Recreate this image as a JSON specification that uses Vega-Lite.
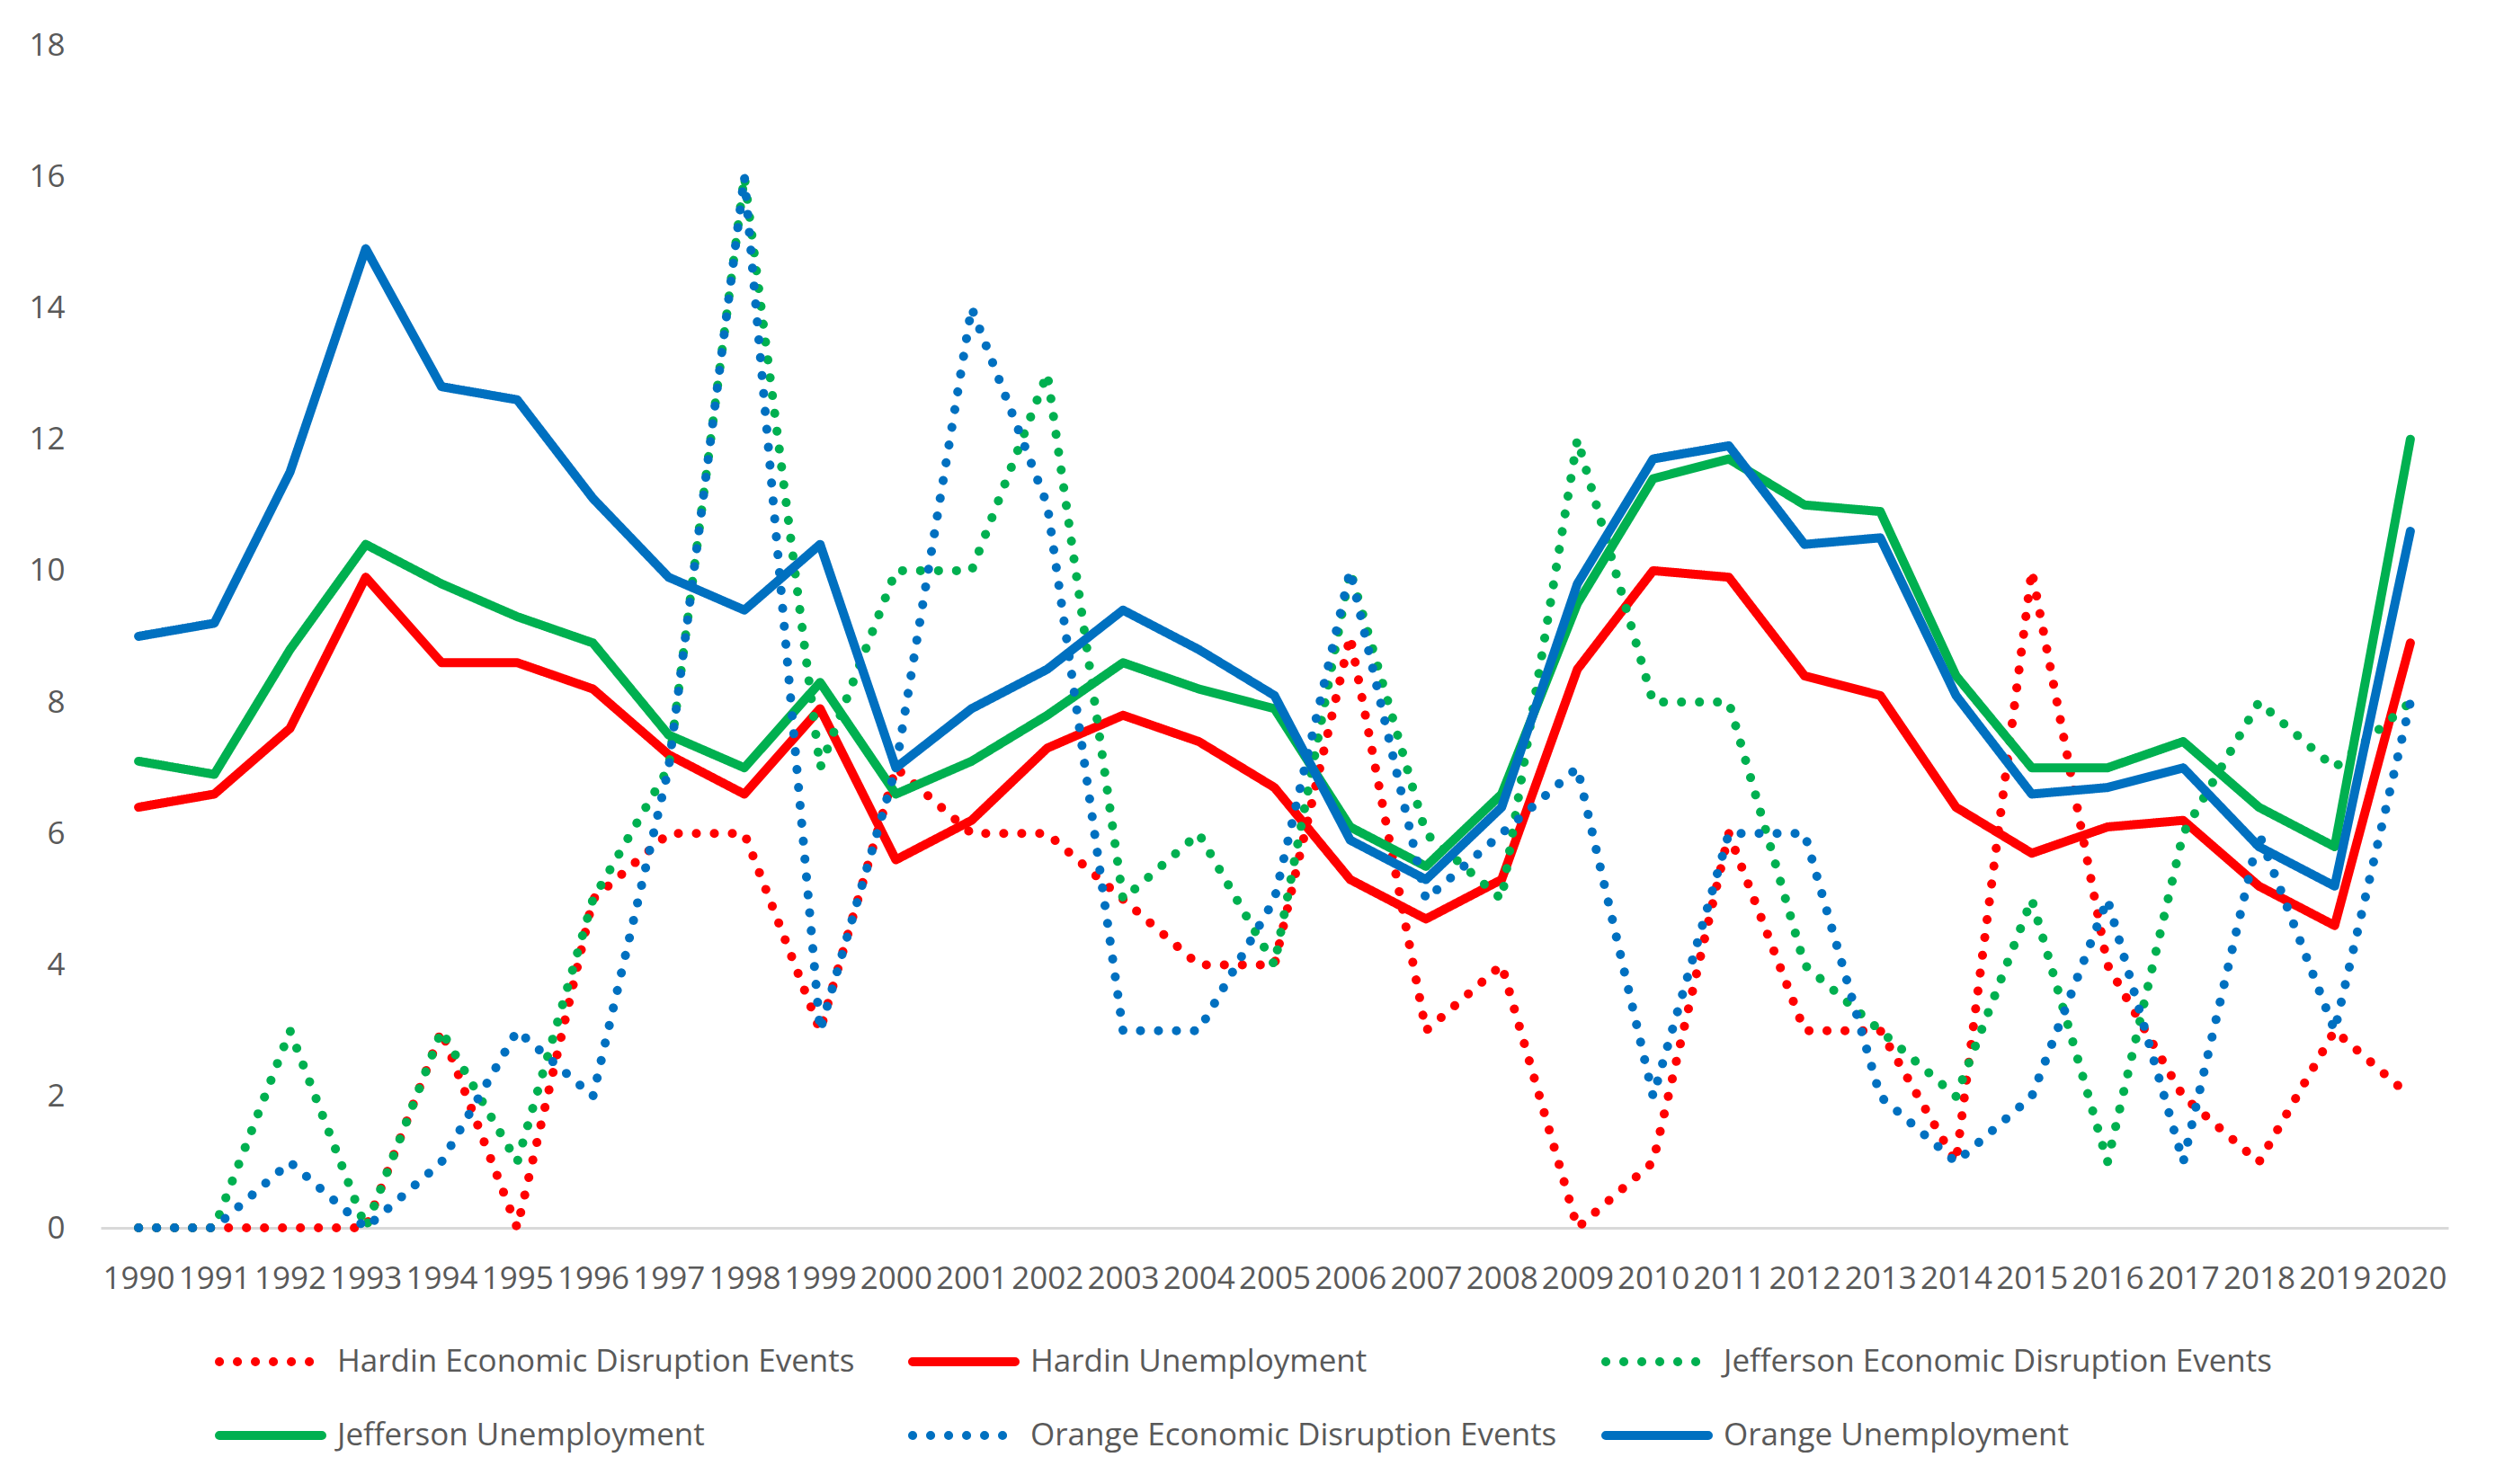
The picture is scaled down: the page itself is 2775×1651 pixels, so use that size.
{
  "$schema": "https://vega.github.io/schema/vega-lite/v6.json",
  "width": 2611,
  "height": 1316,
  "autosize": {"type": "none"},
  "padding": {"left": 112, "top": 50, "right": 52, "bottom": 285},
  "background": "white",
  "config": {"font": "Open Sans", "view": {"stroke": null}},
  "data": {
    "values": [
      {"year": "1990", "series": "Hardin Economic Disruption Events", "value": 0},
      {"year": "1991", "series": "Hardin Economic Disruption Events", "value": 0},
      {"year": "1992", "series": "Hardin Economic Disruption Events", "value": 0},
      {"year": "1993", "series": "Hardin Economic Disruption Events", "value": 0},
      {"year": "1994", "series": "Hardin Economic Disruption Events", "value": 3},
      {"year": "1995", "series": "Hardin Economic Disruption Events", "value": 0},
      {"year": "1996", "series": "Hardin Economic Disruption Events", "value": 5},
      {"year": "1997", "series": "Hardin Economic Disruption Events", "value": 6},
      {"year": "1998", "series": "Hardin Economic Disruption Events", "value": 6},
      {"year": "1999", "series": "Hardin Economic Disruption Events", "value": 3},
      {"year": "2000", "series": "Hardin Economic Disruption Events", "value": 7},
      {"year": "2001", "series": "Hardin Economic Disruption Events", "value": 6},
      {"year": "2002", "series": "Hardin Economic Disruption Events", "value": 6},
      {"year": "2003", "series": "Hardin Economic Disruption Events", "value": 5},
      {"year": "2004", "series": "Hardin Economic Disruption Events", "value": 4},
      {"year": "2005", "series": "Hardin Economic Disruption Events", "value": 4},
      {"year": "2006", "series": "Hardin Economic Disruption Events", "value": 9},
      {"year": "2007", "series": "Hardin Economic Disruption Events", "value": 3},
      {"year": "2008", "series": "Hardin Economic Disruption Events", "value": 4},
      {"year": "2009", "series": "Hardin Economic Disruption Events", "value": 0},
      {"year": "2010", "series": "Hardin Economic Disruption Events", "value": 1},
      {"year": "2011", "series": "Hardin Economic Disruption Events", "value": 6},
      {"year": "2012", "series": "Hardin Economic Disruption Events", "value": 3},
      {"year": "2013", "series": "Hardin Economic Disruption Events", "value": 3},
      {"year": "2014", "series": "Hardin Economic Disruption Events", "value": 1},
      {"year": "2015", "series": "Hardin Economic Disruption Events", "value": 10},
      {"year": "2016", "series": "Hardin Economic Disruption Events", "value": 4},
      {"year": "2017", "series": "Hardin Economic Disruption Events", "value": 2},
      {"year": "2018", "series": "Hardin Economic Disruption Events", "value": 1},
      {"year": "2019", "series": "Hardin Economic Disruption Events", "value": 3},
      {"year": "2020", "series": "Hardin Economic Disruption Events", "value": 2},
      {"year": "1990", "series": "Hardin Unemployment", "value": 6.4},
      {"year": "1991", "series": "Hardin Unemployment", "value": 6.6},
      {"year": "1992", "series": "Hardin Unemployment", "value": 7.6},
      {"year": "1993", "series": "Hardin Unemployment", "value": 9.9},
      {"year": "1994", "series": "Hardin Unemployment", "value": 8.6},
      {"year": "1995", "series": "Hardin Unemployment", "value": 8.6},
      {"year": "1996", "series": "Hardin Unemployment", "value": 8.2},
      {"year": "1997", "series": "Hardin Unemployment", "value": 7.2},
      {"year": "1998", "series": "Hardin Unemployment", "value": 6.6},
      {"year": "1999", "series": "Hardin Unemployment", "value": 7.9},
      {"year": "2000", "series": "Hardin Unemployment", "value": 5.6},
      {"year": "2001", "series": "Hardin Unemployment", "value": 6.2},
      {"year": "2002", "series": "Hardin Unemployment", "value": 7.3},
      {"year": "2003", "series": "Hardin Unemployment", "value": 7.8},
      {"year": "2004", "series": "Hardin Unemployment", "value": 7.4},
      {"year": "2005", "series": "Hardin Unemployment", "value": 6.7},
      {"year": "2006", "series": "Hardin Unemployment", "value": 5.3},
      {"year": "2007", "series": "Hardin Unemployment", "value": 4.7},
      {"year": "2008", "series": "Hardin Unemployment", "value": 5.3},
      {"year": "2009", "series": "Hardin Unemployment", "value": 8.5},
      {"year": "2010", "series": "Hardin Unemployment", "value": 10.0},
      {"year": "2011", "series": "Hardin Unemployment", "value": 9.9},
      {"year": "2012", "series": "Hardin Unemployment", "value": 8.4},
      {"year": "2013", "series": "Hardin Unemployment", "value": 8.1},
      {"year": "2014", "series": "Hardin Unemployment", "value": 6.4},
      {"year": "2015", "series": "Hardin Unemployment", "value": 5.7},
      {"year": "2016", "series": "Hardin Unemployment", "value": 6.1},
      {"year": "2017", "series": "Hardin Unemployment", "value": 6.2},
      {"year": "2018", "series": "Hardin Unemployment", "value": 5.2},
      {"year": "2019", "series": "Hardin Unemployment", "value": 4.6},
      {"year": "2020", "series": "Hardin Unemployment", "value": 8.9},
      {"year": "1990", "series": "Jefferson Economic Disruption Events", "value": 0},
      {"year": "1991", "series": "Jefferson Economic Disruption Events", "value": 0},
      {"year": "1992", "series": "Jefferson Economic Disruption Events", "value": 3},
      {"year": "1993", "series": "Jefferson Economic Disruption Events", "value": 0},
      {"year": "1994", "series": "Jefferson Economic Disruption Events", "value": 3},
      {"year": "1995", "series": "Jefferson Economic Disruption Events", "value": 1},
      {"year": "1996", "series": "Jefferson Economic Disruption Events", "value": 5},
      {"year": "1997", "series": "Jefferson Economic Disruption Events", "value": 7},
      {"year": "1998", "series": "Jefferson Economic Disruption Events", "value": 16},
      {"year": "1999", "series": "Jefferson Economic Disruption Events", "value": 7},
      {"year": "2000", "series": "Jefferson Economic Disruption Events", "value": 10},
      {"year": "2001", "series": "Jefferson Economic Disruption Events", "value": 10},
      {"year": "2002", "series": "Jefferson Economic Disruption Events", "value": 13},
      {"year": "2003", "series": "Jefferson Economic Disruption Events", "value": 5},
      {"year": "2004", "series": "Jefferson Economic Disruption Events", "value": 6},
      {"year": "2005", "series": "Jefferson Economic Disruption Events", "value": 4},
      {"year": "2006", "series": "Jefferson Economic Disruption Events", "value": 10},
      {"year": "2007", "series": "Jefferson Economic Disruption Events", "value": 6},
      {"year": "2008", "series": "Jefferson Economic Disruption Events", "value": 5},
      {"year": "2009", "series": "Jefferson Economic Disruption Events", "value": 12},
      {"year": "2010", "series": "Jefferson Economic Disruption Events", "value": 8},
      {"year": "2011", "series": "Jefferson Economic Disruption Events", "value": 8},
      {"year": "2012", "series": "Jefferson Economic Disruption Events", "value": 4},
      {"year": "2013", "series": "Jefferson Economic Disruption Events", "value": 3},
      {"year": "2014", "series": "Jefferson Economic Disruption Events", "value": 2},
      {"year": "2015", "series": "Jefferson Economic Disruption Events", "value": 5},
      {"year": "2016", "series": "Jefferson Economic Disruption Events", "value": 1},
      {"year": "2017", "series": "Jefferson Economic Disruption Events", "value": 6},
      {"year": "2018", "series": "Jefferson Economic Disruption Events", "value": 8},
      {"year": "2019", "series": "Jefferson Economic Disruption Events", "value": 7},
      {"year": "2020", "series": "Jefferson Economic Disruption Events", "value": 8},
      {"year": "1990", "series": "Jefferson Unemployment", "value": 7.1},
      {"year": "1991", "series": "Jefferson Unemployment", "value": 6.9},
      {"year": "1992", "series": "Jefferson Unemployment", "value": 8.8},
      {"year": "1993", "series": "Jefferson Unemployment", "value": 10.4},
      {"year": "1994", "series": "Jefferson Unemployment", "value": 9.8},
      {"year": "1995", "series": "Jefferson Unemployment", "value": 9.3},
      {"year": "1996", "series": "Jefferson Unemployment", "value": 8.9},
      {"year": "1997", "series": "Jefferson Unemployment", "value": 7.5},
      {"year": "1998", "series": "Jefferson Unemployment", "value": 7.0},
      {"year": "1999", "series": "Jefferson Unemployment", "value": 8.3},
      {"year": "2000", "series": "Jefferson Unemployment", "value": 6.6},
      {"year": "2001", "series": "Jefferson Unemployment", "value": 7.1},
      {"year": "2002", "series": "Jefferson Unemployment", "value": 7.8},
      {"year": "2003", "series": "Jefferson Unemployment", "value": 8.6},
      {"year": "2004", "series": "Jefferson Unemployment", "value": 8.2},
      {"year": "2005", "series": "Jefferson Unemployment", "value": 7.9},
      {"year": "2006", "series": "Jefferson Unemployment", "value": 6.1},
      {"year": "2007", "series": "Jefferson Unemployment", "value": 5.5},
      {"year": "2008", "series": "Jefferson Unemployment", "value": 6.6},
      {"year": "2009", "series": "Jefferson Unemployment", "value": 9.5},
      {"year": "2010", "series": "Jefferson Unemployment", "value": 11.4},
      {"year": "2011", "series": "Jefferson Unemployment", "value": 11.7},
      {"year": "2012", "series": "Jefferson Unemployment", "value": 11.0},
      {"year": "2013", "series": "Jefferson Unemployment", "value": 10.9},
      {"year": "2014", "series": "Jefferson Unemployment", "value": 8.4},
      {"year": "2015", "series": "Jefferson Unemployment", "value": 7.0},
      {"year": "2016", "series": "Jefferson Unemployment", "value": 7.0},
      {"year": "2017", "series": "Jefferson Unemployment", "value": 7.4},
      {"year": "2018", "series": "Jefferson Unemployment", "value": 6.4},
      {"year": "2019", "series": "Jefferson Unemployment", "value": 5.8},
      {"year": "2020", "series": "Jefferson Unemployment", "value": 12.0},
      {"year": "1990", "series": "Orange Economic Disruption Events", "value": 0},
      {"year": "1991", "series": "Orange Economic Disruption Events", "value": 0},
      {"year": "1992", "series": "Orange Economic Disruption Events", "value": 1},
      {"year": "1993", "series": "Orange Economic Disruption Events", "value": 0},
      {"year": "1994", "series": "Orange Economic Disruption Events", "value": 1},
      {"year": "1995", "series": "Orange Economic Disruption Events", "value": 3},
      {"year": "1996", "series": "Orange Economic Disruption Events", "value": 2},
      {"year": "1997", "series": "Orange Economic Disruption Events", "value": 7},
      {"year": "1998", "series": "Orange Economic Disruption Events", "value": 16},
      {"year": "1999", "series": "Orange Economic Disruption Events", "value": 3},
      {"year": "2000", "series": "Orange Economic Disruption Events", "value": 7},
      {"year": "2001", "series": "Orange Economic Disruption Events", "value": 14},
      {"year": "2002", "series": "Orange Economic Disruption Events", "value": 11},
      {"year": "2003", "series": "Orange Economic Disruption Events", "value": 3},
      {"year": "2004", "series": "Orange Economic Disruption Events", "value": 3},
      {"year": "2005", "series": "Orange Economic Disruption Events", "value": 5},
      {"year": "2006", "series": "Orange Economic Disruption Events", "value": 10},
      {"year": "2007", "series": "Orange Economic Disruption Events", "value": 5},
      {"year": "2008", "series": "Orange Economic Disruption Events", "value": 6},
      {"year": "2009", "series": "Orange Economic Disruption Events", "value": 7},
      {"year": "2010", "series": "Orange Economic Disruption Events", "value": 2},
      {"year": "2011", "series": "Orange Economic Disruption Events", "value": 6},
      {"year": "2012", "series": "Orange Economic Disruption Events", "value": 6},
      {"year": "2013", "series": "Orange Economic Disruption Events", "value": 2},
      {"year": "2014", "series": "Orange Economic Disruption Events", "value": 1},
      {"year": "2015", "series": "Orange Economic Disruption Events", "value": 2},
      {"year": "2016", "series": "Orange Economic Disruption Events", "value": 5},
      {"year": "2017", "series": "Orange Economic Disruption Events", "value": 1},
      {"year": "2018", "series": "Orange Economic Disruption Events", "value": 6},
      {"year": "2019", "series": "Orange Economic Disruption Events", "value": 3},
      {"year": "2020", "series": "Orange Economic Disruption Events", "value": 8},
      {"year": "1990", "series": "Orange Unemployment", "value": 9.0},
      {"year": "1991", "series": "Orange Unemployment", "value": 9.2},
      {"year": "1992", "series": "Orange Unemployment", "value": 11.5},
      {"year": "1993", "series": "Orange Unemployment", "value": 14.9},
      {"year": "1994", "series": "Orange Unemployment", "value": 12.8},
      {"year": "1995", "series": "Orange Unemployment", "value": 12.6},
      {"year": "1996", "series": "Orange Unemployment", "value": 11.1},
      {"year": "1997", "series": "Orange Unemployment", "value": 9.9},
      {"year": "1998", "series": "Orange Unemployment", "value": 9.4},
      {"year": "1999", "series": "Orange Unemployment", "value": 10.4},
      {"year": "2000", "series": "Orange Unemployment", "value": 7.0},
      {"year": "2001", "series": "Orange Unemployment", "value": 7.9},
      {"year": "2002", "series": "Orange Unemployment", "value": 8.5},
      {"year": "2003", "series": "Orange Unemployment", "value": 9.4},
      {"year": "2004", "series": "Orange Unemployment", "value": 8.8},
      {"year": "2005", "series": "Orange Unemployment", "value": 8.1},
      {"year": "2006", "series": "Orange Unemployment", "value": 5.9},
      {"year": "2007", "series": "Orange Unemployment", "value": 5.3},
      {"year": "2008", "series": "Orange Unemployment", "value": 6.4},
      {"year": "2009", "series": "Orange Unemployment", "value": 9.8},
      {"year": "2010", "series": "Orange Unemployment", "value": 11.7},
      {"year": "2011", "series": "Orange Unemployment", "value": 11.9},
      {"year": "2012", "series": "Orange Unemployment", "value": 10.4},
      {"year": "2013", "series": "Orange Unemployment", "value": 10.5},
      {"year": "2014", "series": "Orange Unemployment", "value": 8.1},
      {"year": "2015", "series": "Orange Unemployment", "value": 6.6},
      {"year": "2016", "series": "Orange Unemployment", "value": 6.7},
      {"year": "2017", "series": "Orange Unemployment", "value": 7.0},
      {"year": "2018", "series": "Orange Unemployment", "value": 5.8},
      {"year": "2019", "series": "Orange Unemployment", "value": 5.2},
      {"year": "2020", "series": "Orange Unemployment", "value": 10.6}
    ]
  },
  "mark": {"type": "line", "strokeWidth": 10, "strokeCap": "round", "strokeJoin": "round"},
  "encoding": {
    "x": {
      "field": "year",
      "type": "ordinal",
      "scale": {"type": "point", "padding": 0.5},
      "axis": {
        "title": null,
        "labelAngle": 0,
        "labelFontSize": 35,
        "labelColor": "#595959",
        "ticks": false,
        "labelPadding": 39,
        "domainColor": "#d9d9d9",
        "domainWidth": 3,
        "grid": false
      }
    },
    "y": {
      "field": "value",
      "type": "quantitative",
      "scale": {"domain": [0, 18]},
      "axis": {
        "title": null,
        "values": [0, 2, 4, 6, 8, 10, 12, 14, 16, 18],
        "grid": false,
        "domain": false,
        "ticks": false,
        "labelFontSize": 35,
        "labelColor": "#595959",
        "labelPadding": 40
      }
    },
    "color": {
      "field": "series",
      "type": "nominal",
      "scale": {
        "domain": ["Hardin Economic Disruption Events", "Hardin Unemployment", "Jefferson Economic Disruption Events", "Jefferson Unemployment", "Orange Economic Disruption Events", "Orange Unemployment"],
        "range": ["#ff0000", "#ff0000", "#00b050", "#00b050", "#0070c0", "#0070c0"]
      },
      "legend": {
        "title": null,
        "orient": "none",
        "direction": "horizontal",
        "legendX": 127,
        "legendY": 1403,
        "columns": 3,
        "gridAlign": "all",
        "padding": 0,
        "symbolType": "stroke",
        "symbolSize": 12996,
        "symbolStrokeWidth": 10,
        "labelFontSize": 35,
        "labelColor": "#595959",
        "labelLimit": 1000,
        "labelOffset": 12,
        "columnPadding": 10,
        "rowPadding": -52,
        "encode": {"symbols": {"update": {"strokeCap": {"value": "round"}}}}
      }
    },
    "strokeDash": {
      "field": "series",
      "type": "nominal",
      "scale": {
        "domain": ["Hardin Economic Disruption Events", "Hardin Unemployment", "Jefferson Economic Disruption Events", "Jefferson Unemployment", "Orange Economic Disruption Events", "Orange Unemployment"],
        "range": [[0.1, 19.9], [1, 0], [0.1, 19.9], [1, 0], [0.1, 19.9], [1, 0]]
      },
      "legend": {
        "title": null,
        "orient": "none",
        "direction": "horizontal",
        "legendX": 127,
        "legendY": 1403,
        "columns": 3,
        "gridAlign": "all",
        "padding": 0,
        "symbolType": "stroke",
        "symbolSize": 12996,
        "symbolStrokeWidth": 10,
        "labelFontSize": 35,
        "labelColor": "#595959",
        "labelLimit": 1000,
        "labelOffset": 12,
        "columnPadding": 10,
        "rowPadding": -52,
        "encode": {"symbols": {"update": {"strokeCap": {"value": "round"}}}}
      }
    }
  }
}
